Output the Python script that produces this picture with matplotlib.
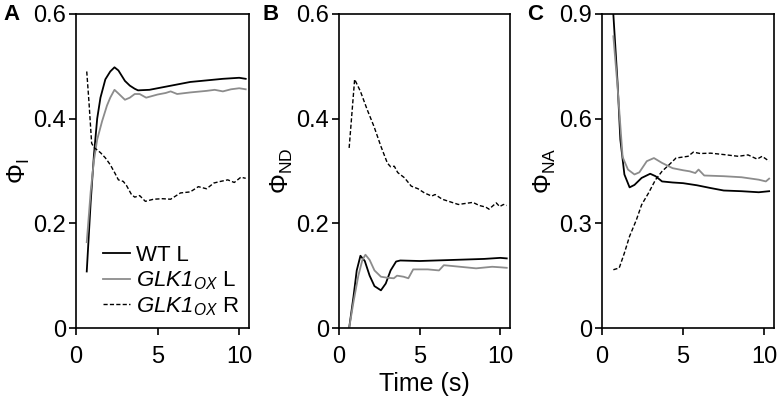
import matplotlib
matplotlib.use("Agg")
import matplotlib.pyplot as plt

plt.rcParams['font.family'] = ['Liberation Sans', 'DejaVu Sans']
plt.rcParams['mathtext.fontset'] = 'custom'
plt.rcParams['mathtext.rm'] = 'Liberation Sans'
plt.rcParams['mathtext.it'] = 'Liberation Sans:italic'
# sf slot used for italic text incl. digits (mathtext forces digits upright in 'it')
plt.rcParams['mathtext.sf'] = 'Liberation Sans:italic'

# panel A: Phi_I
a_wt_t = [0.66, 0.9, 1.1, 1.3, 1.5, 1.8, 2.1, 2.36, 2.6, 3.0, 3.3, 3.6, 3.8, 4.5, 5.0, 6.0, 7.0, 8.0, 9.0, 10.0, 10.4]
a_wt_y = [0.108, 0.24, 0.33, 0.40, 0.44, 0.475, 0.49, 0.498, 0.492, 0.472, 0.463, 0.457, 0.454, 0.455, 0.458, 0.464, 0.47, 0.473, 0.476, 0.478, 0.476]
a_gl_t = [0.66, 0.9, 1.1, 1.3, 1.6, 1.9, 2.1, 2.36, 2.6, 3.0, 3.3, 3.6, 3.9, 4.3, 5.0, 5.5, 5.8, 6.2, 7.0, 8.0, 8.5, 9.0, 9.5, 10.0, 10.4]
a_gl_y = [0.164, 0.26, 0.32, 0.36, 0.395, 0.425, 0.44, 0.455, 0.448, 0.436, 0.44, 0.447, 0.447, 0.44, 0.446, 0.449, 0.452, 0.447, 0.45, 0.453, 0.455, 0.452, 0.456, 0.458, 0.456]
a_r_t = [0.66, 0.8, 0.96, 1.1, 1.5, 1.8, 2.1, 2.4, 2.6, 2.9, 3.1, 3.4, 3.6, 3.9, 4.25, 4.75, 5.3, 5.8, 6.4, 7.0, 7.5, 8.0, 8.45, 8.85, 9.3, 9.7, 10.1, 10.4]
a_r_y = [0.49, 0.43, 0.353, 0.345, 0.335, 0.325, 0.312, 0.295, 0.283, 0.28, 0.272, 0.255, 0.25, 0.253, 0.242, 0.246, 0.247, 0.246, 0.258, 0.26, 0.27, 0.266, 0.277, 0.28, 0.283, 0.278, 0.288, 0.286]

# panel B: Phi_ND
b_wt_t = [0.63, 0.9, 1.1, 1.33, 1.6, 1.9, 2.2, 2.6, 2.9, 3.2, 3.54, 3.8, 5.0, 7.0, 9.0, 10.0, 10.4]
b_wt_y = [0.0, 0.06, 0.11, 0.138, 0.128, 0.1, 0.08, 0.072, 0.085, 0.11, 0.127, 0.129, 0.128, 0.13, 0.132, 0.134, 0.133]
b_gl_t = [0.63, 0.9, 1.2, 1.45, 1.64, 1.9, 2.2, 2.6, 3.0, 3.4, 3.6, 4.0, 4.3, 4.6, 5.0, 5.5, 6.2, 6.5, 7.5, 8.5, 9.5, 10.0, 10.4]
b_gl_y = [0.0, 0.05, 0.1, 0.13, 0.14, 0.13, 0.11, 0.098, 0.096, 0.095, 0.1, 0.098, 0.095, 0.112, 0.112, 0.112, 0.11, 0.12, 0.117, 0.114, 0.117, 0.116, 0.115]
b_r_t = [0.63, 0.97, 1.33, 1.75, 2.17, 2.6, 3.0, 3.2, 3.43, 3.64, 4.06, 4.48, 4.9, 5.3, 5.75, 5.96, 6.4, 6.8, 7.4, 7.85, 8.3, 8.7, 9.1, 9.3, 9.75, 9.96, 10.2, 10.4]
b_r_y = [0.344, 0.475, 0.452, 0.417, 0.385, 0.347, 0.315, 0.308, 0.309, 0.297, 0.287, 0.271, 0.266, 0.258, 0.252, 0.255, 0.246, 0.242, 0.236, 0.238, 0.24, 0.234, 0.231, 0.227, 0.239, 0.232, 0.236, 0.234]

# panel C: Phi_NA
c_wt_t = [0.7, 0.96, 1.13, 1.38, 1.7, 2.0, 2.44, 2.97, 3.3, 3.7, 4.35, 5.0, 5.85, 6.7, 7.5, 8.6, 9.66, 10.3]
c_wt_y = [0.898, 0.702, 0.54, 0.44, 0.403, 0.41, 0.43, 0.442, 0.435, 0.42, 0.417, 0.415, 0.409, 0.401, 0.394, 0.392, 0.389, 0.392]
c_gl_t = [0.7, 0.96, 1.27, 1.6, 2.0, 2.3, 2.76, 3.2, 3.7, 4.35, 5.0, 5.4, 5.75, 5.95, 6.3, 7.5, 8.6, 9.66, 10.1, 10.3]
c_gl_y = [0.836, 0.69, 0.49, 0.454, 0.44, 0.446, 0.478, 0.487, 0.473, 0.458, 0.452, 0.449, 0.444, 0.454, 0.437, 0.435, 0.432, 0.425, 0.42, 0.428]
c_r_t = [0.7, 1.06, 1.38, 1.7, 2.12, 2.44, 2.87, 3.3, 3.7, 4.14, 4.56, 5.0, 5.3, 5.63, 6.05, 6.7, 7.5, 8.4, 9.0, 9.56, 9.87, 10.3]
c_r_y = [0.167, 0.172, 0.215, 0.263, 0.31, 0.353, 0.387, 0.425, 0.449, 0.468, 0.487, 0.49, 0.492, 0.504, 0.5, 0.501, 0.497, 0.492, 0.496, 0.484, 0.492, 0.478]

labels = ['WT L', r'$\mathsf{GLK1}_{\mathsf{OX}}$ L', r'$\mathsf{GLK1}_{\mathsf{OX}}$ R']
gray = '#8c8c8c'
dash = (0, (3, 1.6))

fig = plt.figure(figsize=(7.8, 4.09), dpi=100)
axA = fig.add_axes([0.0974, 0.198, 0.2218, 0.768])
axB = fig.add_axes([0.4346, 0.198, 0.2192, 0.768])
axC = fig.add_axes([0.7718, 0.198, 0.2205, 0.768])

panels = [
    (axA, a_wt_t, a_wt_y, a_gl_t, a_gl_y, a_r_t, a_r_y, 0.6, [0, 0.2, 0.4, 0.6], ['0', '0.2', '0.4', '0.6'], r'$\Phi_\mathrm{I}$', 'A', 3),
    (axB, b_wt_t, b_wt_y, b_gl_t, b_gl_y, b_r_t, b_r_y, 0.6, [0, 0.2, 0.4, 0.6], ['0', '0.2', '0.4', '0.6'], r'$\Phi_\mathrm{ND}$', 'B', 262),
    (axC, c_wt_t, c_wt_y, c_gl_t, c_gl_y, c_r_t, c_r_y, 0.9, [0, 0.3, 0.6, 0.9], ['0', '0.3', '0.6', '0.9'], r'$\Phi_\mathrm{NA}$', 'C', 527),
]

for ax, wt, wy, gt, gy, rt, ry, ymax, yt, ytl, ylab, letter, lx in panels:
    ax.plot(wt, wy, color='black', lw=1.3, label=labels[0])
    ax.plot(gt, gy, color=gray, lw=1.3, label=labels[1])
    ax.plot(rt, ry, color='black', lw=1.0, linestyle=dash, label=labels[2])
    ax.set_xlim(0, 10.6)
    ax.set_ylim(0, ymax)
    ax.set_xticks([0, 5, 10])
    ax.set_yticks(yt)
    ax.set_yticklabels(ytl)
    ax.tick_params(direction='out', length=5, width=1.2, labelsize=17)
    ax.tick_params(axis='x', pad=8)
    ax.tick_params(axis='y', pad=2)
    for s in ax.spines.values():
        s.set_linewidth(1.2)
    ax.set_ylabel(ylab, fontsize=18, labelpad=1)
    fig.text(lx / 780, 1 - 15 / 409, letter, fontsize=16,
             fontweight='bold', va='center', ha='left')

axA.legend(loc='lower left', bbox_to_anchor=(0.08, -0.01), frameon=False,
           fontsize=16, handlelength=1.2, handletextpad=0.3, labelspacing=0.15,
           borderaxespad=0.2)
axB.set_xlabel('Time (s)', fontsize=18, labelpad=3)

fig.savefig('out.png', dpi=100)
